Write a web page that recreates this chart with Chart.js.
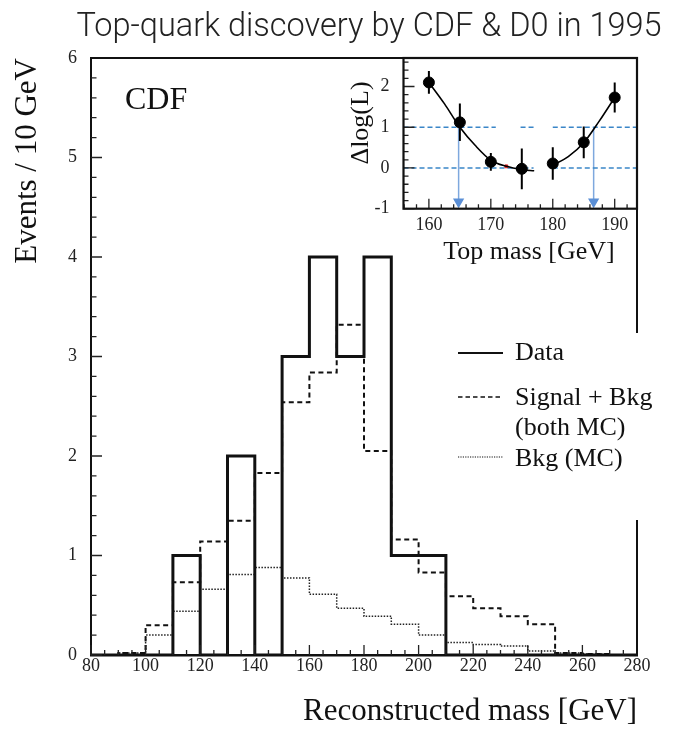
<!DOCTYPE html>
<html>
<head>
<meta charset="utf-8">
<script src="https://cdn.jsdelivr.net/npm/chart.js@4.4.1/dist/chart.umd.min.js"></script>
<style>
  body { margin: 0; background: #fff; }
  #wrap { position: relative; width: 679px; height: 729px; }
  #main { position: absolute; left: 0; top: 0; }
  #inset { position: absolute; left: 330px; top: 40px; }
</style>
</head>
<body>
<div id="wrap">
  <canvas id="main" width="679" height="729"></canvas>
  <canvas id="inset" width="349" height="250"></canvas>
</div>
<script>
// reconstructed mass histogram, 10 GeV bins from 80 to 280
const binLow = [80, 90, 100, 110, 120, 130, 140, 150, 160, 170, 180, 190, 200, 210, 220, 230, 240, 250, 260, 270];
const binWidth = 10;
const dataCounts = [0, 0, 0, 1, 0, 2, 0, 3, 4, 3, 4, 1, 1, 0, 0, 0, 0, 0, 0, 0];
const sigBkg = [0, 0.02, 0.30, 0.73, 1.14, 1.35, 1.83, 2.54, 2.84, 3.32, 2.05, 1.16, 0.83, 0.59, 0.47, 0.39, 0.31, 0.02, 0.01, 0];
const bkgOnly = [0, 0.02, 0.20, 0.44, 0.66, 0.81, 0.88, 0.775, 0.61, 0.47, 0.39, 0.31, 0.20, 0.126, 0.106, 0.09, 0.04, 0.02, 0.01, 0];
const massTicks = [80, 100, 120, 140, 160, 180, 200, 220, 240, 260, 280];
const eventTicks = [0, 1, 2, 3, 4, 5, 6];

// likelihood scan vs. top mass (inset)
const scanMass = [160, 165, 170, 175, 180, 185, 190];
const scanDLogL = [2.10, 1.12, 0.15, -0.02, 0.11, 0.63, 1.73];
const scanErr = [0.28, 0.46, 0.22, 0.50, 0.40, 0.39, 0.37];
const fitLoMass = [160, 162.5, 165, 167.5, 170, 172.5, 175, 177];
const fitLoVal = [2.10, 1.58, 1.00, 0.55, 0.19, 0.04, -0.04, -0.07];
const fitHiMass = [180, 182.5, 185, 187.5, 190];
const fitHiVal = [0.07, 0.28, 0.62, 1.15, 1.73];
const bestMass = [172.5];
const bestVal = [0.04];
const levelOne = [[155.9, 170.8], [174.8, 176.9], [180, 193.6]];
const levelZero = [[155.9, 176.9], [180, 193.6]];
const limitMass = [164.8, 186.6];
const scanMassTicks = [160, 170, 180, 190];
const scanLogTicks = [-1, 0, 1, 2];

const serif = '"Liberation Serif", "DejaVu Serif", serif';
const ink = '#111';
const blue = '#3a86c8';
const lightBlue = '#7ea8de';

// bin contents -> step outline (value held from each lower edge to the next)
function steps(vals) {
  const pts = binLow.map((x, i) => ({ x: x, y: vals[i] }));
  pts.push({ x: binLow[binLow.length - 1] + binWidth, y: vals[vals.length - 1] });
  return pts;
}

function fixedTicks(values) {
  return scale => { scale.ticks = values.map(v => ({ value: v })); };
}

// tick marks pointing into the plot area
function innerTicks(ctx, scale, area, from, to, step, major, longLen, shortLen) {
  const n = Math.round((to - from) / step);
  ctx.save();
  ctx.strokeStyle = '#222';
  ctx.lineWidth = 1.3;
  ctx.beginPath();
  for (let i = 0; i <= n; i++) {
    const v = from + i * step;
    const isMajor = Math.abs(v / major - Math.round(v / major)) < 1e-6;
    const len = isMajor ? longLen : shortLen;
    const p = scale.getPixelForValue(v);
    if (scale.isHorizontal()) {
      ctx.moveTo(p, area.bottom);
      ctx.lineTo(p, area.bottom - len);
    } else {
      ctx.moveTo(area.left, p);
      ctx.lineTo(area.left + len, p);
    }
  }
  ctx.stroke();
  ctx.restore();
}

const mainDecor = {
  id: 'mainDecor',
  afterDraw(chart) {
    const { ctx, chartArea: a, scales } = chart;
    innerTicks(ctx, scales.x, a, 80, 280, 5, 20, 10, 5);
    innerTicks(ctx, scales.y, a, 0, 6, 0.2, 1, 11, 5.5);

    ctx.save();
    ctx.strokeStyle = ink;
    ctx.lineWidth = 2;
    ctx.beginPath();
    // top edge up to the inset, right edge broken by the legend
    ctx.moveTo(a.left, a.top);
    ctx.lineTo(403.5, a.top);
    ctx.moveTo(a.right, a.top);
    ctx.lineTo(a.right, 333);
    ctx.moveTo(a.right, 520);
    ctx.lineTo(a.right, a.bottom);
    ctx.stroke();

    ctx.fillStyle = '#222';
    ctx.textBaseline = 'middle';
    ctx.textAlign = 'center';
    ctx.font = '300 32.5px Roboto, "Liberation Sans", sans-serif';
    ctx.fillText('Top-quark discovery by CDF & D0 in 1995', 369, 28);

    ctx.fillStyle = ink;
    ctx.textAlign = 'left';
    ctx.font = '32px ' + serif;
    ctx.fillText('CDF', 125, 101);

    // legend
    ctx.font = '26px ' + serif;
    const lx0 = 458, lx1 = 503, tx = 515;
    ctx.lineWidth = 2.2;
    ctx.setLineDash([]);
    ctx.beginPath(); ctx.moveTo(lx0, 353); ctx.lineTo(lx1, 353); ctx.stroke();
    ctx.fillText('Data', tx, 353);
    ctx.lineWidth = 1.5;
    ctx.setLineDash([4.5, 3]);
    ctx.beginPath(); ctx.moveTo(lx0, 397); ctx.lineTo(lx1, 397); ctx.stroke();
    ctx.fillText('Signal + Bkg', tx, 398);
    ctx.fillText('(both MC)', tx, 428);
    ctx.lineWidth = 1.2;
    ctx.setLineDash([1.2, 1.2]);
    ctx.beginPath(); ctx.moveTo(lx0, 457); ctx.lineTo(lx1, 457); ctx.stroke();
    ctx.fillText('Bkg (MC)', tx, 459);
    ctx.restore();
  }
};

new Chart(document.getElementById('main'), {
  type: 'line',
  data: {
    datasets: [
      { label: 'Data', data: steps(dataCounts), stepped: 'before', borderColor: ink, borderWidth: 3, pointRadius: 0, fill: false },
      { label: 'Signal + Bkg', data: steps(sigBkg), stepped: 'before', borderColor: ink, borderWidth: 2, borderDash: [5, 3.5], pointRadius: 0, fill: false },
      { label: 'Bkg (MC)', data: steps(bkgOnly), stepped: 'before', borderColor: '#222', borderWidth: 1.5, borderDash: [1.5, 1.5], pointRadius: 0, fill: false }
    ]
  },
  options: {
    responsive: false,
    animation: false,
    devicePixelRatio: 1,
    layout: { padding: { left: 0, top: 58, right: 42, bottom: 0 } },
    plugins: { legend: { display: false }, tooltip: { enabled: false } },
    scales: {
      x: {
        type: 'linear', min: 80, max: 280,
        afterBuildTicks: fixedTicks(massTicks),
        afterFit: s => { s.height = 74; },
        grid: { display: false },
        border: { display: true, width: 2.5, color: ink },
        ticks: { font: { family: serif, size: 18 }, color: '#222', padding: -8, maxRotation: 0 },
        title: { display: true, text: 'Reconstructed mass [GeV]', align: 'end', color: ink,
                 font: { family: serif, size: 31, lineHeight: 1 }, padding: { top: 0, bottom: 1.5 } }
      },
      y: {
        type: 'linear', min: 0, max: 6,
        afterBuildTicks: fixedTicks(eventTicks),
        afterFit: s => { s.width = 91; },
        grid: { display: false },
        border: { display: true, width: 2, color: ink },
        ticks: { font: { family: serif, size: 18 }, color: '#222', padding: 6 },
        title: { display: true, text: 'Events / 10 GeV', align: 'end', color: ink,
                 font: { family: serif, size: 31, lineHeight: 1 }, padding: { top: 12, bottom: 0 } }
      }
    }
  },
  plugins: [mainDecor]
});

// inset: likelihood scan
function segments(ranges, y) {
  const pts = [];
  ranges.forEach(r => {
    pts.push({ x: r[0], y: y }, { x: r[1], y: y }, { x: r[1], y: null });
  });
  return pts;
}

const errorBars = scanMass.flatMap((m, i) => [
  { x: m, y: scanDLogL[i] - scanErr[i] },
  { x: m, y: scanDLogL[i] + scanErr[i] },
  { x: m, y: null }
]);

const insetDecor = {
  id: 'insetDecor',
  afterDraw(chart) {
    const { ctx, chartArea: a, scales } = chart;
    innerTicks(ctx, scales.x, a, 156, 192, 2, 10, 10, 4.5);
    innerTicks(ctx, scales.y, a, -1, 2.6, 0.2, 1, 11, 5);
    ctx.save();
    ctx.strokeStyle = ink;
    ctx.lineWidth = 2.2;
    ctx.strokeRect(a.left, a.top, a.right - a.left, a.bottom - a.top);
    ctx.fillStyle = ink;
    ctx.textBaseline = 'middle';
    ctx.textAlign = 'center';
    ctx.font = '26px ' + serif;
    ctx.fillText('Top mass [GeV]', 199, 212);
    ctx.translate(31, 83);
    ctx.rotate(-Math.PI / 2);
    ctx.fillText('\u0394log(L)', 0, 0);
    ctx.restore();
  }
};

const insetSets = [
  { data: scanMass.map((m, i) => ({ x: m, y: scanDLogL[i] })), pointRadius: 5.5, backgroundColor: '#000', borderColor: '#000', showLine: false },
  { data: errorBars, showLine: true, borderColor: '#000', borderWidth: 2, pointRadius: 0, spanGaps: false },
  { data: fitLoMass.map((m, i) => ({ x: m, y: fitLoVal[i] })), showLine: true, borderColor: '#000', borderWidth: 1.6, pointRadius: 0, cubicInterpolationMode: 'monotone' },
  { data: fitHiMass.map((m, i) => ({ x: m, y: fitHiVal[i] })), showLine: true, borderColor: '#000', borderWidth: 1.6, pointRadius: 0, cubicInterpolationMode: 'monotone' },
  { data: bestMass.map((m, i) => ({ x: m, y: bestVal[i] })), pointStyle: 'rect', pointRadius: 2, backgroundColor: '#e02020', borderColor: '#e02020', showLine: false },
  { data: segments(levelOne, 1), showLine: true, borderColor: blue, borderWidth: 1.6, borderDash: [5, 3], pointRadius: 0, spanGaps: false },
  { data: segments(levelZero, 0), showLine: true, borderColor: blue, borderWidth: 1.6, borderDash: [5, 3], pointRadius: 0, spanGaps: false }
];
limitMass.forEach(m => {
  insetSets.push({
    data: [{ x: m, y: 1 }, { x: m, y: -0.83 }],
    showLine: true, borderColor: lightBlue, borderWidth: 1.5,
    pointRadius: [0, 5], pointStyle: 'triangle', rotation: 180,
    backgroundColor: '#5b8fd6', pointBorderColor: '#5b8fd6'
  });
});

new Chart(document.getElementById('inset'), {
  type: 'scatter',
  data: { datasets: insetSets },
  options: {
    responsive: false,
    animation: false,
    devicePixelRatio: 1,
    layout: { padding: { left: 0, top: 18, right: 42, bottom: 0 } },
    plugins: { legend: { display: false }, tooltip: { enabled: false } },
    scales: {
      x: {
        type: 'linear', min: 155.9, max: 193.6,
        afterBuildTicks: fixedTicks(scanMassTicks),
        afterFit: s => { s.height = 81.3; },
        grid: { display: false },
        border: { display: false },
        ticks: { font: { family: serif, size: 18 }, color: '#222', padding: -2, maxRotation: 0 }
      },
      y: {
        type: 'linear', min: -1, max: 2.7,
        afterBuildTicks: fixedTicks(scanLogTicks),
        afterFit: s => { s.width = 73.5; },
        grid: { display: false },
        border: { display: false },
        ticks: { font: { family: serif, size: 18 }, color: '#222', padding: 6 }
      }
    }
  },
  plugins: [insetDecor]
});
</script>
</body>
</html>
